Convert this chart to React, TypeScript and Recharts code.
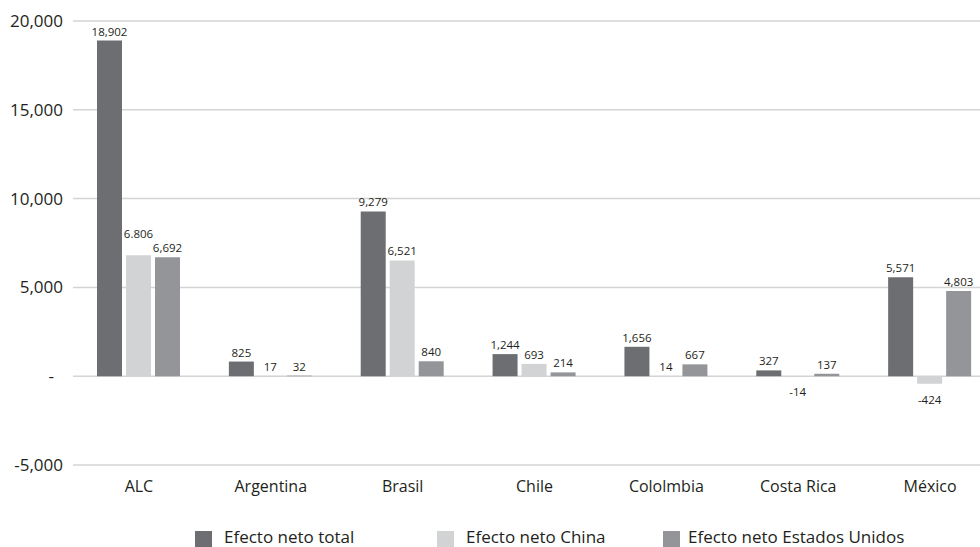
import React from 'react';
import { BarChart, Bar, XAxis, YAxis, CartesianGrid, LabelList, Legend } from 'recharts';

const categories = ['ALC', 'Argentina', 'Brasil', 'Chile', 'Cololmbia', 'Costa Rica', 'México'];
const totalValues = [18902, 825, 9279, 1244, 1656, 327, 5571];
const chinaValues = [6806, 17, 6521, 693, 14, -14, -424];
const usValues = [6692, 32, 840, 214, 667, 137, 4803];
const totalLabels = ['18,902', '825', '9,279', '1,244', '1,656', '327', '5,571'];
const chinaLabels = ['6.806', '17', '6,521', '693', '14', '-14', '-424'];
const usLabels = ['6,692', '32', '840', '214', '667', '137', '4,803'];
const yTicks = [-5000, 0, 5000, 10000, 15000, 20000];
const seriesNames = ['Efecto neto total', 'Efecto neto China', 'Efecto neto Estados Unidos'];

const COLORS = ['#6d6e71', '#d1d3d4', '#939598'];
const FONT = '"Open Sans", sans-serif';
const TEXT = '#231f20';

const data = categories.map((c, i) => ({
  name: c,
  total: totalValues[i],
  china: chinaValues[i],
  us: usValues[i],
  totalLabel: totalLabels[i],
  chinaLabel: chinaLabels[i],
  usLabel: usLabels[i],
}));

const makeLabel = (liftIndex: number | null, lift: number) => (props: any) => {
  const { x, y, width, height, value, index } = props;
  const top = Math.min(y, y + height);
  const bottom = Math.max(y, y + height);
  const neg = String(value).startsWith('-');
  const cx = x + width / 2;
  const extra = index === liftIndex ? lift : 0;
  return (
    <text
      x={cx}
      y={neg ? bottom + 20 : top - 5 - extra}
      textAnchor="middle"
      fontFamily={FONT}
      fontSize={11.5}
      fill={TEXT}
    >
      {value}
    </text>
  );
};

const plainLabel = makeLabel(null, 0);
const chinaLabel = makeLabel(0, 12);

const YTick = (props: any) => {
  const { x, y, payload } = props;
  const v = payload.value;
  const label = v === 0 ? '-' : v.toLocaleString('en-US');
  return (
    <text
      x={v === 0 ? x - 9 : x}
      y={y}
      dy="0.355em"
      textAnchor="end"
      fontFamily={FONT}
      fontSize={17}
      fill={TEXT}
    >
      {label}
    </text>
  );
};

const legendPos = [
  { sq: 195, tx: 224 },
  { sq: 437, tx: 466 },
  { sq: 663, tx: 688 },
];

const renderLegend = () => (
  <div style={{ position: 'relative', width: 980, height: 20 }}>
    {seriesNames.map((n, i) => (
      <React.Fragment key={n}>
        <div
          style={{
            position: 'absolute',
            left: legendPos[i].sq,
            top: 4,
            width: 17,
            height: 16,
            background: COLORS[i],
          }}
        />
        <div
          style={{
            position: 'absolute',
            left: legendPos[i].tx,
            top: 1,
            fontFamily: FONT,
            fontSize: 17,
            lineHeight: '17px',
            color: TEXT,
            whiteSpace: 'nowrap',
          }}
        >
          {n}
        </div>
      </React.Fragment>
    ))}
  </div>
);

export default function App() {
  return (
    <div
      style={{
        position: 'absolute',
        left: 0,
        top: 0,
        width: 980,
        height: 547,
        overflow: 'hidden',
        background: '#ffffff',
      }}
    >
      <BarChart
        width={996}
        height={547}
        data={data}
        margin={{ top: 21, right: 0, left: 0, bottom: 52 }}
        barSize={25}
        barGap={4}
      >
        <CartesianGrid vertical={false} stroke="#d4d4d4" strokeWidth={1.5} />
        <XAxis
          dataKey="name"
          axisLine={false}
          tickLine={false}
          tickMargin={10}
          tick={{ fontFamily: FONT, fontSize: 16, fill: TEXT }}
          interval={0}
        />
        <YAxis
          width={73}
          domain={[-5000, 20000]}
          ticks={yTicks}
          axisLine={false}
          tickLine={false}
          tickMargin={4}
          tick={<YTick />}
          interval={0}
        />
        <Legend
          layout="horizontal"
          verticalAlign="middle"
          align="center"
          wrapperStyle={{ left: 0, top: 527, width: 980, height: 20 }}
          content={renderLegend}
        />
        <Bar dataKey="total" name={seriesNames[0]} fill={COLORS[0]} isAnimationActive={false}>
          <LabelList dataKey="totalLabel" content={plainLabel} />
        </Bar>
        <Bar dataKey="china" name={seriesNames[1]} fill={COLORS[1]} isAnimationActive={false}>
          <LabelList dataKey="chinaLabel" content={chinaLabel} />
        </Bar>
        <Bar dataKey="us" name={seriesNames[2]} fill={COLORS[2]} isAnimationActive={false}>
          <LabelList dataKey="usLabel" content={plainLabel} />
        </Bar>
      </BarChart>
    </div>
  );
}
